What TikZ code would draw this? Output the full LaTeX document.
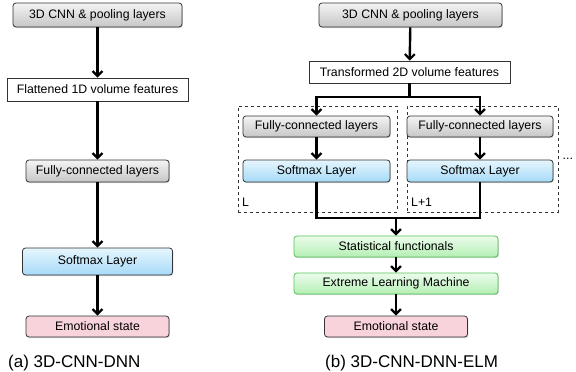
\documentclass[tikz,border=0pt]{standalone}
\usepackage{fontspec}
\setmainfont{Liberation Sans}
\usetikzlibrary{arrows.meta,shadows}
\definecolor{grayT}{HTML}{F4F4F4}
\definecolor{grayB}{HTML}{C6C6C6}
\definecolor{blueT}{HTML}{E6F6FE}
\definecolor{blueB}{HTML}{A6DAF7}
\definecolor{greenT}{HTML}{ECFCEC}
\definecolor{greenB}{HTML}{B4EFB4}
\definecolor{greenD}{HTML}{55C455}
\definecolor{pinkF}{HTML}{F9D3DC}
\definecolor{edge}{HTML}{333333}
\begin{document}
\begin{tikzpicture}[x=1pt,y=-1pt,
  boxbase/.style={rounded corners=3pt, line width=0.8pt, inner sep=0pt,
    font=\fontsize{12.3}{14}\selectfont,
    drop shadow={opacity=0.35, shadow xshift=0.8pt, shadow yshift=-1pt}},
  graybox/.style={boxbase, draw=edge, top color=grayT, bottom color=grayB},
  bluebox/.style={boxbase, draw=edge, top color=blueT, bottom color=blueB},
  greenbox/.style={boxbase, draw=greenD, top color=greenT, bottom color=greenB},
  pinkbox/.style={boxbase, draw=edge, fill=pinkF},
  flatbox/.style={draw=edge, line width=0.8pt, fill=white, inner sep=0pt,
    font=\fontsize{12.3}{14}\selectfont},
  dashbox/.style={draw=edge, dashed, line width=0.7pt, inner sep=0pt},
  ln/.style={line width=2.4pt, line join=miter},
  arr/.style={ln, -{Straight Barb[length=5pt,width=10pt,line width=2.2pt]}},
  lbl/.style={font=\fontsize{12.3}{14}\selectfont, inner sep=0pt},
  captext/.style={font=\fontsize{17}{19}\selectfont, inner sep=0pt}
]
\useasboundingbox (0,0) rectangle (576,372);

% ---- (a) ----
\node[graybox, minimum width=169, minimum height=24] (cnnA) at (97.5,15) {3D CNN \& pooling layers};
\node[flatbox, minimum width=181, minimum height=23] (flat) at (97.5,89.5) {Flattened 1D volume features};
\node[graybox, minimum width=143, minimum height=22] (fcA) at (97.5,171) {Fully-connected layers};
\node[bluebox, minimum width=150, minimum height=27] (smA) at (97.5,261.5) {Softmax Layer};
\node[pinkbox, minimum width=143, minimum height=21] (emoA) at (97.5,326.5) {Emotional state};
\node[captext, anchor=base west] (capA) at (8,367) {(a) 3D-CNN-DNN};

\draw[arr] (cnnA) -- (flat);
\draw[arr] (flat) -- (fcA);
\draw[arr] (fcA) -- (smA);
\draw[arr] (smA) -- (emoA);

% ---- (b) ----
\node[dashbox, minimum width=159, minimum height=106] (dL) at (317.5,159) {};
\node[dashbox, minimum width=151, minimum height=106] (dR) at (482.5,159) {};
\node[lbl, anchor=base west] (lL) at (242,206) {L};
\node[lbl, anchor=base west] (lR) at (411,206) {L+1};
\node[lbl, anchor=base west] (dots) at (562.5,159.5) {...};

\node[graybox, minimum width=183, minimum height=24] (cnnB) at (410.5,15) {3D CNN \& pooling layers};
\node[flatbox, minimum width=201, minimum height=22] (trans) at (409.5,72) {Transformed 2D volume features};
\node[graybox, minimum width=147, minimum height=21] (fcL) at (316.5,126.5) {Fully-connected layers};
\node[graybox, minimum width=146, minimum height=21] (fcR) at (480,126.5) {Fully-connected layers};
\node[bluebox, minimum width=147, minimum height=22] (smL) at (316.5,171) {Softmax Layer};
\node[bluebox, minimum width=146, minimum height=22] (smR) at (480,171) {Softmax Layer};
\node[greenbox, minimum width=204, minimum height=21] (stat) at (396,246.5) {Statistical functionals};
\node[greenbox, minimum width=204, minimum height=21] (elm) at (396,283.5) {Extreme Learning Machine};
\node[pinkbox, minimum width=143, minimum height=21] (emoB) at (396,326.5) {Emotional state};
\node[captext, anchor=base west] (capB) at (325,367) {(b) 3D-CNN-DNN-ELM};

\coordinate (bj) at (409.5,97);
\coordinate (mj) at (396,218);

\draw[arr] (cnnB) -- (trans);
\draw[ln] (trans.south) -- (bj);
\draw[arr] (bj) -| (fcL.north);
\draw[arr] (bj) -| (fcR.north);
\draw[arr] (fcL) -- (smL);
\draw[arr] (fcR) -- (smR);
\draw[ln] (smL.south) |- (mj) -| (smR.south);
\draw[arr] (mj) -- (stat.north);
\draw[arr] (stat) -- (elm);
\draw[arr] (elm) -- (emoB);
\end{tikzpicture}
\end{document}
